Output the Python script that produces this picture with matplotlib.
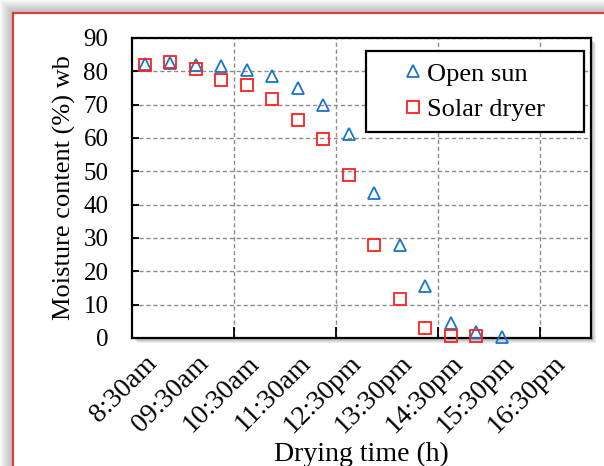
import matplotlib
matplotlib.use("Agg")
import matplotlib.pyplot as plt
from matplotlib.patches import Rectangle
from matplotlib.ticker import MultipleLocator

plt.rcParams['font.family'] = ['Liberation Serif', 'DejaVu Serif']

# moisture content (% wb), one reading every half hour from 8:30am
open_sun = [82.2, 82.5, 81.9, 81.7, 80.3, 78.5, 75.0, 70.0, 61.3, 43.5,
            28.0, 15.5, 4.5, 1.7, 0.3]
solar_dryer = [82.0, 82.7, 80.7, 77.3, 75.8, 71.8, 65.5, 59.7, 49.0, 27.8,
               11.7, 3.0, 0.5, 0.5]
hour_labels = ['8:30am', '09:30am', '10:30am', '11:30am', '12:30pm',
               '13:30pm', '14:30pm', '15:30pm', '16:30pm']
n_slots = 18

W, H = 604, 466
fig = plt.figure(figsize=(W / 100, H / 100), dpi=100)


def box(x0, y0, x1, y1, **kw):
    # rectangle given in pixels from the top-left corner
    r = Rectangle((x0 / W, 1 - y1 / H), (x1 - x0) / W, (y1 - y0) / H,
                  transform=fig.transFigure, **kw)
    fig.add_artist(r)
    return r


# soft shadow round the red frame
for i in range(13):
    box(12 - i, 12 - i, W + 60, H + 60, facecolor='#505050',
        edgecolor='none', alpha=0.03, zorder=-5)
box(12.5, 12.5, W + 60, H + 60, facecolor='white', edgecolor='#d9413e',
    lw=1.6, zorder=-4)

# plot-area drop shadow
ax_l, ax_t, ax_r, ax_b = 132, 38, 591, 338
for i in range(1, 6):
    box(ax_l + i, ax_t + i, ax_r + i, ax_b + i, facecolor='black',
        edgecolor='none', alpha=0.07, zorder=-1)

ax = fig.add_axes([ax_l / W, 1 - ax_b / H, (ax_r - ax_l) / W, (ax_b - ax_t) / H])
ax.set_facecolor('white')

x_open = list(range(len(open_sun)))
x_solar = list(range(len(solar_dryer)))
ax.plot(x_open, open_sun, ls='none', marker='^', ms=9, mfc='none',
        mec='#1a75c7', mew=1.3, clip_on=False, zorder=4, label='Open sun')
ax.plot(x_solar, solar_dryer, ls='none', marker='s', ms=8, mfc='none',
        mec='#ff2020', mew=1.3, clip_on=False, zorder=4, label='Solar dryer')

ax.set_xlim(-0.5, n_slots - 0.5)
ax.set_ylim(0, 90)

# gridlines every two hours, labels every hour
ax.set_xticks([3.5, 7.5, 11.5, 15.5])
ax.set_xticklabels([])
ax.set_xticks(range(0, 17, 2), minor=True)
ax.set_xticklabels(hour_labels, minor=True, rotation=45, ha='right',
                   va='top', rotation_mode='anchor', fontsize=20)
ax.tick_params(axis='x', which='minor', length=0, pad=9)
ax.tick_params(axis='x', which='major', direction='in', length=8, width=1.3)

ax.yaxis.set_major_locator(MultipleLocator(10))
ax.tick_params(axis='y', direction='in', length=5, width=1.3, pad=17,
               labelsize=18)

grid_kw = dict(color='#8c8c8c', ls=(0, (3, 2)), lw=1)
ax.grid(axis='y', **grid_kw)
ax.grid(axis='x', which='major', **grid_kw)
ax.set_axisbelow(True)

for s in ax.spines.values():
    s.set_linewidth(1.6)
    s.set_color('black')

ax.set_ylabel('Moisture content (%) wb', fontsize=19)
ax.yaxis.set_label_coords(-0.122, 0.5)
ax.set_xlabel('Drying time (h)', fontsize=20, va='top')
ax.xaxis.set_label_coords(0.5, -0.345)

# legend with a square black frame
fx0, fx1 = (366 - ax_l) / 459, (584 - ax_l) / 459
fy0, fy1 = (ax_b - 132) / 300, (ax_b - 51) / 300
ax.add_patch(Rectangle((fx0, fy0), fx1 - fx0, fy1 - fy0, transform=ax.transAxes,
                       facecolor='white', edgecolor='black', lw=1.6, zorder=5))
leg = ax.legend(loc='center', bbox_to_anchor=((fx0 + fx1) / 2, (fy0 + fy1) / 2),
                frameon=False, fontsize=19, handlelength=0.6,
                handletextpad=0.25, labelspacing=0.45, borderpad=0)
leg.set_zorder(6)

fig.savefig('out.png', dpi=100)
